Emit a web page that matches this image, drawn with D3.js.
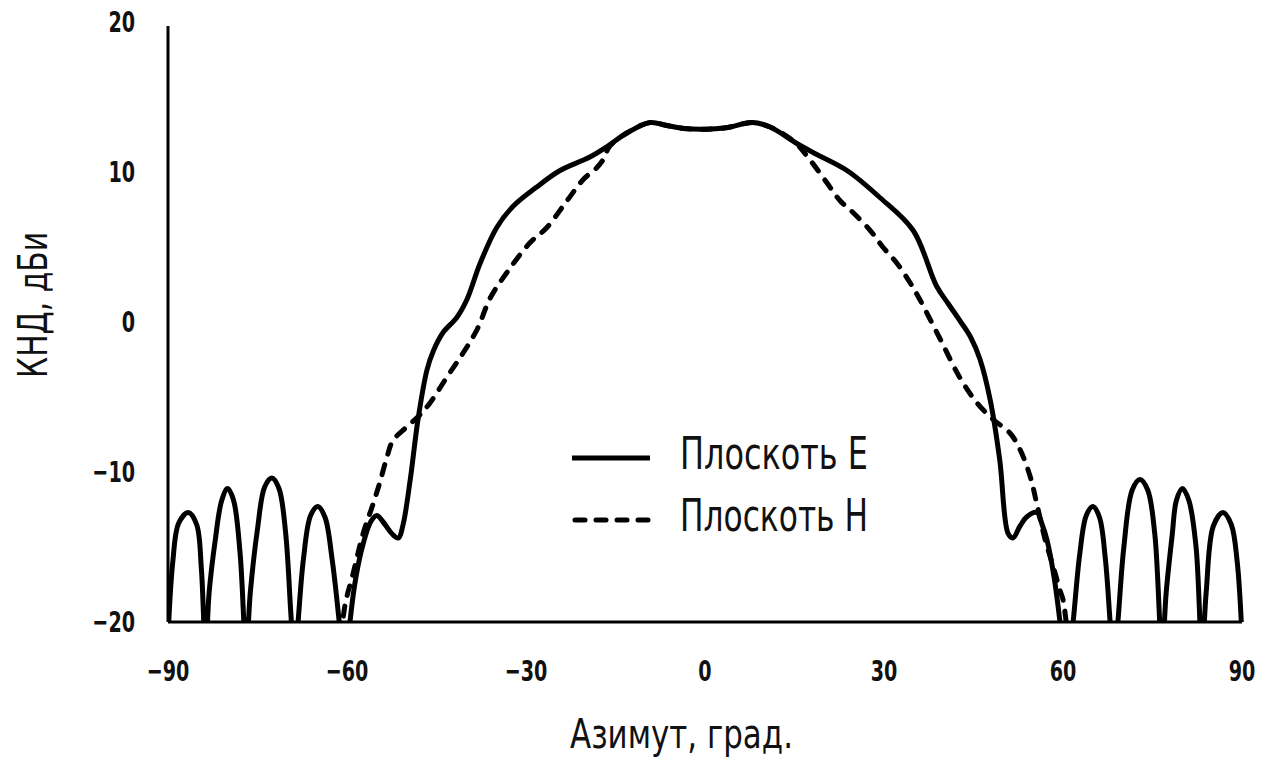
<!DOCTYPE html>
<html>
<head>
<meta charset="utf-8">
<script src="https://cdn.jsdelivr.net/npm/d3@7/dist/d3.min.js"></script>
<style>
  html, body { margin: 0; padding: 0; background: #fff; }
  svg { display: block; }
  text { font-family: "DejaVu Sans", "Noto Sans", sans-serif; fill: #111; }
</style>
</head>
<body>
<svg id="chart" width="1266" height="764"></svg>
<script>
// ---- data ----
const xTicks = [-90, -60, -30, 0, 30, 60, 90];
const yTicks = [20, 10, 0, -10, -20];
const xTitle = "Азимут, град.";
const yTitle = "КНД, дБи";
const seriesNames = ["Плоскоть E", "Плоскоть H"];

// E plane (solid): [azimuth deg, dBi]
const planeE = [
  [-90.0,-21.0],[-89.2,-16.0],[-88.2,-13.4],[-86.6,-12.7],[-85.2,-13.5],[-84.4,-16.5],[-83.7,-22.0],
  [-83.1,-18.0],[-82.1,-14.6],[-81.0,-11.9],[-80.0,-11.1],[-79.0,-11.9],[-77.9,-15.5],[-76.9,-22.0],
  [-76.2,-18.0],[-75.0,-13.8],[-73.8,-11.0],[-72.6,-10.4],[-71.4,-11.1],[-70.3,-14.0],[-69.4,-19.5],
  [-68.8,-23.0],[-68.2,-20.0],[-67.3,-15.8],[-66.1,-12.9],[-64.9,-12.3],[-63.7,-13.0],[-62.5,-15.8],
  [-61.3,-20.0],[-60.3,-24.0],[-59.5,-20.0],[-58.5,-17.0],[-57.3,-14.8],[-56.0,-13.3],[-55.0,-12.9],
  [-54.0,-13.3],[-52.5,-14.1],[-51.4,-14.4],[-50.6,-13.5],[-49.4,-10.5],[-48.1,-6.5],[-46.6,-3.2],
  [-45.5,-1.9],[-43.9,-0.7],[-41.6,0.3],[-39.9,1.5],[-37.7,3.9],[-34.9,6.3],[-32.2,7.7],[-28.2,9.0],
  [-24.3,10.1],[-19.3,11.0],[-16.4,11.7],[-13.1,12.6],[-9.2,13.3],[-6.4,13.1],[-3.5,12.9],[0.0,12.85],
  [3.5,12.95],[8.0,13.3],[10.9,13.0],[15.4,11.9],[18.1,11.3],[23.8,10.1],[29.3,8.3],[34.9,6.1],
  [38.8,2.4],[40.8,1.2],[42.7,0.1],[44.5,-1.0],[46.1,-2.5],[47.8,-5.2],[49.4,-9.2],[50.8,-14.1],
  [51.6,-14.4],[52.8,-13.6],[53.9,-13.0],[55.6,-12.7],[56.5,-13.5],[57.3,-14.5],[58.5,-17.0],
  [59.5,-20.0],[60.6,-24.0],[61.7,-20.0],[62.8,-15.5],[63.9,-12.9],[65.0,-12.3],[66.1,-13.0],
  [67.1,-15.8],[67.9,-20.0],[68.5,-23.0],[69.2,-20.0],[70.2,-15.0],[71.6,-11.2],[72.9,-10.5],
  [74.2,-11.2],[75.4,-14.2],[76.6,-22.0],[77.3,-18.0],[78.3,-14.2],[79.0,-11.9],[80.0,-11.1],
  [81.1,-11.9],[82.3,-15.0],[83.3,-22.0],[84.0,-18.0],[85.2,-13.6],[86.8,-12.7],[88.2,-13.5],
  [89.2,-16.0],[90.0,-21.0]
];

// H plane (dashed): [azimuth deg, dBi]
const planeH = [
  [-61.0,-21.0],[-60.3,-18.8],[-59.0,-16.8],[-57.3,-14.1],[-55.6,-12.1],[-54.5,-10.7],[-53.3,-9.0],
  [-52.3,-7.9],[-50.0,-7.0],[-47.8,-6.2],[-46.1,-5.4],[-43.3,-3.7],[-40.6,-2.1],[-38.2,-0.5],
  [-36.0,1.6],[-33.2,3.3],[-29.3,5.3],[-26.5,6.3],[-23.1,8.1],[-20.4,9.5],[-18.1,10.3],[-17.1,10.8],
  [-16.0,11.7],[-13.1,12.6],[-9.2,13.3],[-6.4,13.1],[-3.5,12.9],[0.0,12.85],[3.5,12.95],[8.0,13.3],
  [10.9,13.0],[15.0,12.0],[17.6,10.8],[20.4,9.3],[22.6,8.1],[24.8,7.3],[27.7,6.1],[29.8,5.0],
  [32.2,3.9],[34.4,2.6],[36.0,1.5],[39.5,-1.2],[42.7,-3.7],[45.6,-5.4],[48.3,-6.5],[51.1,-7.4],
  [52.8,-8.5],[54.5,-10.3],[55.6,-12.1],[57.0,-14.5],[58.5,-16.5],[59.5,-17.9],[60.0,-18.5],[60.8,-21.0]
];

// ---- drawing ----
const svg = d3.select("#chart");
const x = d3.scaleLinear().domain([-90, 90]).range([168, 1242]);
const y = d3.scaleLinear().domain([-20, 20]).range([622, 22]);

svg.append("clipPath").attr("id", "plot")
  .append("rect").attr("x", x(-90)).attr("y", y(20) - 10)
  .attr("width", x(90) - x(-90) + 2).attr("height", y(-20) - y(20) + 10);

const line = d3.line().x(d => x(d[0])).y(d => y(d[1])).curve(d3.curveCatmullRom.alpha(0.5));

const g = svg.append("g").attr("clip-path", "url(#plot)");
g.append("path").datum(planeH).attr("d", line)
  .attr("fill", "none").attr("stroke", "#000").attr("stroke-width", 5)
  .attr("stroke-dasharray", "10,11").attr("stroke-linecap", "round");
g.append("path").datum(planeE).attr("d", line)
  .attr("fill", "none").attr("stroke", "#000").attr("stroke-width", 5)
  .attr("stroke-linejoin", "round");

// axes lines
svg.append("line").attr("x1", x(-90)).attr("x2", x(-90)).attr("y1", y(20) + 4).attr("y2", y(-20))
  .attr("stroke", "#000").attr("stroke-width", 3);
svg.append("line").attr("x1", x(-90)).attr("x2", x(90)).attr("y1", y(-20)).attr("y2", y(-20))
  .attr("stroke", "#000").attr("stroke-width", 3);

function label(txt, px, py, size, sx, anchor) {
  return svg.append("text")
    .attr("transform", `translate(${px},${py}) scale(${sx},1)`)
    .attr("text-anchor", anchor).attr("font-size", size).text(txt);
}
function fmt(v) { return v < 0 ? "\u2212" + Math.abs(v) : String(v); }

xTicks.forEach(v => label(fmt(v), x(v), 681, 29, 0.66, "middle").attr("font-weight", "bold"));
yTicks.forEach(v => label(fmt(v), 135, y(v) + 10, 29, 0.66, "end").attr("font-weight", "bold"));

// axis titles
svg.append("text").attr("x", 570).attr("y", 748).attr("font-size", 41)
  .attr("textLength", 223).attr("lengthAdjust", "spacingAndGlyphs").text(xTitle);
svg.append("text").attr("transform", "translate(47,378) rotate(-90)").attr("font-size", 41)
  .attr("textLength", 146).attr("lengthAdjust", "spacingAndGlyphs").text(yTitle);

// legend
const legY = [458, 520];
svg.append("line").attr("x1", 572).attr("x2", 650).attr("y1", legY[0]).attr("y2", legY[0])
  .attr("stroke", "#000").attr("stroke-width", 5);
svg.append("line").attr("x1", 575).attr("x2", 650).attr("y1", legY[1]).attr("y2", legY[1])
  .attr("stroke", "#000").attr("stroke-width", 5).attr("stroke-dasharray", "10,11").attr("stroke-linecap", "round");
seriesNames.forEach((s, i) => {
  svg.append("text").attr("x", 680).attr("y", legY[i] + 11).attr("font-size", 45)
    .attr("textLength", 188).attr("lengthAdjust", "spacingAndGlyphs").text(s);
});
</script>
</body>
</html>
